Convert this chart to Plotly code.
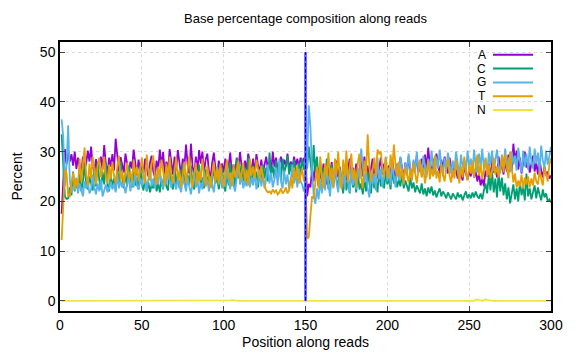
import plotly.graph_objects as go

positions = list(range(1, 301))

A = [
17.5, 23.0, 30.5, 27.5, 29.8, 28.0, 29.5, 27.2, 30.0, 26.5,
28.8, 27.0, 25.5, 29.0, 26.8, 27.5, 30.2, 28.0, 31.0, 27.0,
26.0, 28.5, 25.8, 27.6, 29.0, 26.4, 31.3, 27.5, 25.6, 28.8,
27.0, 29.5, 26.2, 32.6, 28.4, 26.0, 28.9, 27.3, 25.8, 29.6,
27.0, 25.5, 28.0, 26.6, 30.4, 27.2, 25.2, 28.4, 26.0, 27.5,
25.6, 28.6, 26.4, 25.0, 27.8, 29.2, 26.0, 24.8, 28.2, 26.4,
30.4, 27.0, 29.9, 25.6, 28.0, 26.2, 30.5, 27.4, 25.4, 29.0,
26.2, 30.3, 27.0, 25.2, 28.6, 26.8, 31.4, 27.4, 25.6, 31.6,
27.0, 25.4, 29.0, 26.2, 30.3, 27.6, 30.0, 25.8, 28.4, 29.6,
26.0, 24.8, 27.8, 29.8, 26.6, 25.0, 28.2, 26.4, 27.6, 25.8,
28.6, 26.2, 27.0, 29.8, 25.8, 27.4, 26.0, 28.8, 26.4, 29.9,
27.0, 25.4, 28.2, 26.2, 29.6, 27.4, 26.0, 28.6, 25.6, 29.5,
27.2, 26.0, 28.4, 25.8, 27.6, 29.0, 26.4, 27.8, 25.6, 30.0,
27.0, 28.8, 26.2, 27.6, 29.0, 26.8, 28.4, 27.0, 29.6, 26.4,
28.0, 26.6, 29.0, 27.2, 28.6, 26.8, 28.8, 27.6, 28.6, 29.0,
21.0, 23.5, 22.8, 26.5, 24.0, 27.8, 25.2, 23.0, 26.4, 24.2,
27.6, 25.0, 23.4, 26.8, 24.6, 27.9, 23.8, 26.0, 28.2, 24.8,
26.6, 23.6, 25.8, 27.4, 24.2, 26.2, 28.6, 24.8, 26.8, 25.0,
27.6, 24.4, 26.2, 28.4, 25.0, 29.0, 25.6, 27.2, 24.6, 26.8,
28.6, 25.2, 27.0, 24.6, 26.4, 28.8, 25.4, 27.6, 24.8, 26.0,
27.2, 25.0, 28.4, 26.0, 24.4, 27.6, 25.6, 28.8, 26.2, 24.6,
27.8, 25.8, 29.0, 26.4, 25.2, 28.0, 26.6, 29.2, 25.8, 27.4,
28.6, 26.0, 29.4, 26.6, 30.8, 27.0, 25.8, 28.6, 26.4, 29.6,
27.0, 25.4, 28.4, 26.6, 29.0, 27.2, 25.6, 28.8, 26.4, 25.0,
27.6, 25.8, 24.6, 26.8, 25.2, 24.2, 27.0, 25.6, 24.4, 26.2,
25.0, 27.4, 24.8, 26.0, 24.0, 25.6, 23.2, 24.6, 23.0, 26.2,
25.0, 27.6, 24.4, 28.4, 25.8, 27.0, 24.8, 29.0, 26.2, 27.6,
25.4, 28.2, 26.0, 29.4, 27.0, 26.2, 31.6, 28.0, 30.2, 26.4,
28.8, 25.6, 27.6, 30.0, 26.8, 28.4, 25.8, 27.2, 29.2, 26.0,
27.8, 25.4, 28.6, 26.2, 24.8, 27.0, 25.2, 26.0, 24.6, 25.2,
]

C = [
33.5, 27.0, 21.0, 20.5, 20.6, 22.8, 21.2, 26.0, 22.0, 23.6,
22.4, 25.6, 22.0, 24.0, 27.6, 23.2, 22.4, 25.0, 23.6, 22.2,
26.6, 23.0, 28.0, 24.2, 22.4, 26.0, 23.4, 27.8, 23.6, 22.0,
25.4, 22.8, 24.6, 22.2, 26.4, 23.4, 28.0, 24.6, 22.6, 25.8,
23.0, 27.2, 24.4, 22.8, 26.0, 23.2, 24.8, 22.4, 27.4, 23.6,
22.2, 24.8, 22.0, 23.8, 21.8, 23.4, 22.6, 25.2, 22.0, 23.6,
21.8, 24.6, 22.4, 25.8, 23.0, 22.2, 26.8, 23.6, 22.4, 27.0,
23.4, 25.6, 22.6, 24.4, 27.6, 23.8, 22.8, 25.4, 23.2, 27.2,
23.6, 22.4, 26.0, 24.0, 27.4, 23.0, 24.8, 22.6, 26.4, 23.4,
25.4, 22.8, 24.2, 27.0, 23.6, 25.0, 22.4, 24.4, 26.8, 23.2,
22.0, 25.6, 23.2, 27.8, 24.0, 26.4, 23.0, 28.6, 24.6, 25.8,
27.4, 24.0, 26.6, 23.6, 28.8, 25.0, 23.8, 27.2, 24.4, 26.0,
22.8, 25.6, 23.6, 27.4, 24.6, 26.8, 24.0, 29.8, 25.4, 27.0,
24.6, 28.2, 25.6, 27.6, 24.2, 28.6, 25.8, 27.0, 29.2, 25.4,
27.6, 24.8, 28.4, 26.0, 25.0, 27.8, 25.6, 28.6, 26.4, 27.0,
26.6, 31.0, 27.4, 25.0, 31.3, 26.0, 29.0, 24.6, 27.6, 23.8,
26.8, 24.0, 28.6, 22.4, 25.6, 27.4, 23.0, 26.0, 24.4, 22.6,
27.0, 23.8, 21.6, 25.6, 22.2, 24.6, 21.6, 26.6, 22.8, 24.2,
21.8, 25.8, 22.4, 23.6, 21.4, 24.4, 22.0, 26.0, 23.2, 21.6,
25.4, 22.6, 24.2, 21.8, 26.4, 23.0, 24.8, 22.6, 25.6, 23.4,
24.6, 22.4, 26.4, 23.6, 25.0, 22.8, 24.4, 23.0, 25.6, 22.6,
24.2, 23.2, 22.0, 24.8, 22.6, 23.8, 21.8, 23.2, 22.4, 21.6,
23.6, 21.4, 22.6, 21.0, 22.8, 21.6, 23.0, 21.2, 22.2, 20.8,
21.8, 22.6, 21.0, 22.0, 21.4, 20.6, 21.8, 21.2, 20.4, 21.6,
21.0, 20.4, 21.8, 20.8, 21.4, 20.2, 21.2, 22.0, 20.6, 21.4,
20.6, 21.8, 20.8, 22.0, 21.0, 20.6, 21.6, 20.4, 22.2, 23.6,
21.6, 25.4, 22.2, 26.0, 21.8, 24.6, 20.8, 25.8, 22.0, 24.8,
21.2, 23.6, 20.4, 22.8, 19.6, 21.8, 23.4, 20.4, 22.6, 20.0,
24.0, 21.2, 22.8, 20.2, 25.6, 21.0, 22.6, 20.4, 21.8, 23.2,
20.6, 22.8, 21.4, 20.2, 22.4, 20.8, 21.6, 20.0, 20.4, 19.8,
]

G = [
36.5, 33.0, 23.0, 27.5, 35.3, 24.2, 21.8, 23.0, 22.2, 24.8,
21.6, 23.6, 22.4, 21.0, 24.0, 22.6, 23.8, 21.6, 22.4, 25.4,
22.8, 21.4, 23.6, 22.0, 24.4, 21.0, 22.2, 23.4, 21.8, 22.6,
24.0, 22.4, 23.6, 21.8, 25.6, 22.6, 24.2, 22.8, 23.6, 21.6,
23.4, 25.2, 22.0, 24.0, 22.8, 26.0, 23.2, 22.4, 24.6, 23.0,
25.8, 23.6, 22.2, 24.4, 26.6, 23.0, 24.6, 22.6, 25.6, 23.4,
26.2, 24.0, 22.6, 25.4, 23.4, 27.0, 24.2, 22.8, 25.2, 23.6,
22.4, 24.6, 23.0, 21.8, 25.0, 23.2, 22.0, 24.8, 22.6, 21.4,
23.6, 25.8, 22.8, 24.2, 21.6, 23.8, 22.4, 26.0, 23.0, 24.4,
22.0, 25.0, 23.4, 21.8, 24.6, 27.0, 23.4, 25.6, 22.6, 24.4,
23.0, 28.0, 24.2, 22.4, 25.8, 23.2, 22.0, 24.6, 27.6, 23.4,
25.0, 22.6, 24.2, 23.0, 26.0, 22.8, 24.8, 23.2, 25.8, 22.4,
24.0, 26.4, 23.0, 25.4, 22.6, 24.6, 27.4, 23.6, 25.8, 22.8,
24.4, 26.8, 23.2, 28.6, 24.0, 22.6, 26.2, 23.4, 25.4, 22.4,
24.2, 27.4, 23.6, 25.6, 22.8, 26.6, 24.0, 23.4, 22.0, 23.8,
28.0, 39.3, 35.0, 26.4, 21.2, 19.5, 22.6, 20.4, 24.2, 21.6,
25.8, 22.2, 27.0, 23.4, 21.0, 25.4, 22.6, 28.0, 23.6, 21.8,
26.4, 23.0, 25.6, 22.4, 28.4, 24.0, 21.8, 26.6, 23.2, 25.0,
22.4, 26.6, 24.6, 30.6, 27.2, 23.8, 26.0, 22.6, 20.8, 25.8,
23.4, 25.6, 22.2, 28.8, 24.4, 26.6, 22.8, 25.4, 29.0, 24.0,
26.8, 23.2, 28.2, 25.0, 22.8, 27.6, 24.2, 29.0, 25.6, 23.6,
27.8, 25.2, 29.6, 26.4, 24.2, 28.4, 25.8, 30.0, 26.2, 27.6,
25.0, 29.2, 26.8, 24.8, 28.6, 26.0, 30.2, 27.0, 25.4, 29.0,
26.6, 30.4, 27.2, 25.0, 28.8, 26.2, 29.8, 27.4, 25.6, 28.2,
26.4, 30.0, 27.6, 25.2, 29.4, 26.8, 28.4, 25.8, 30.2, 27.0,
28.6, 25.6, 30.4, 27.2, 25.8, 29.6, 27.0, 30.6, 26.4, 28.8,
25.4, 29.8, 27.4, 30.2, 26.0, 28.6, 30.4, 27.0, 25.6, 29.4,
27.0, 30.6, 26.6, 28.8, 25.8, 30.0, 27.4, 29.2, 26.2, 30.8,
27.6, 25.8, 30.2, 27.0, 29.6, 26.4, 31.0, 28.0, 26.6, 30.6,
27.6, 29.8, 26.0, 31.2, 28.2, 26.8, 30.2, 27.4, 29.0, 31.0,
]

T = [
12.2, 20.0, 26.4, 25.6, 21.2, 21.0, 23.0, 25.8, 22.4, 24.6,
23.0, 28.6, 24.0, 26.8, 30.8, 25.4, 23.2, 27.6, 24.6, 29.0,
25.6, 23.4, 27.2, 28.8, 24.8, 26.4, 29.0, 25.0, 23.6, 27.4,
24.4, 28.0, 25.2, 23.6, 27.0, 29.2, 24.2, 26.2, 23.4, 25.6,
27.8, 24.6, 26.0, 23.8, 28.4, 25.2, 27.0, 24.0, 26.4, 28.8,
25.4, 23.6, 29.4, 26.0, 24.2, 27.6, 29.2, 25.0, 23.4, 27.0,
24.8, 28.4, 26.2, 23.2, 27.6, 24.4, 29.0, 25.2, 23.6, 26.8,
28.8, 24.2, 26.4, 22.8, 25.8, 28.0, 23.6, 26.2, 29.2, 24.6,
22.8, 25.6, 27.8, 23.4, 26.0, 24.2, 28.6, 25.4, 23.0, 27.2,
24.8, 22.6, 25.6, 28.0, 24.0, 26.6, 23.4, 27.6, 25.0, 22.8,
26.2, 28.4, 24.4, 25.8, 23.0, 27.4, 24.8, 26.6, 28.2, 24.2,
25.6, 27.8, 24.0, 26.4, 23.2, 28.6, 25.2, 27.0, 24.6, 28.4,
26.0, 24.4, 27.2, 25.4, 23.0, 22.2, 21.8, 22.0, 21.6, 22.4,
21.8, 22.2, 21.4, 21.8, 22.6, 21.6, 22.0, 22.8, 21.6, 22.2,
24.8, 22.6, 26.8, 24.4, 27.2, 23.6, 25.4, 26.6, 24.0, 25.0,
12.5, 12.8, 17.0, 21.0, 20.6, 24.4, 27.0, 22.6, 29.0, 24.8,
22.6, 27.6, 25.0, 29.8, 24.2, 26.8, 22.8, 28.6, 25.4, 30.0,
24.6, 22.4, 28.4, 25.0, 30.2, 23.8, 27.2, 29.6, 24.4, 26.6,
23.0, 27.8, 29.6, 24.8, 22.6, 28.2, 25.4, 33.5, 27.0, 24.0,
26.2, 28.8, 25.0, 30.4, 29.6, 30.0, 26.4, 24.8, 28.8, 26.0,
24.6, 29.4, 26.4, 31.4, 27.2, 25.0, 28.0, 24.6, 26.6, 23.4,
27.0, 25.2, 23.8, 26.6, 24.2, 27.8, 25.4, 23.6, 26.2, 28.4,
24.8, 26.8, 23.6, 25.8, 28.2, 24.4, 26.6, 25.0, 29.2, 24.6,
26.2, 23.8, 27.6, 25.4, 24.0, 26.8, 28.6, 25.2, 23.8, 26.4,
24.6, 28.4, 25.6, 23.6, 27.0, 24.8, 29.0, 25.8, 24.2, 27.4,
25.6, 28.2, 24.8, 26.8, 29.4, 25.2, 27.6, 24.4, 26.8, 28.6,
25.0, 27.4, 24.6, 26.2, 28.8, 25.4, 27.0, 24.8, 26.4, 29.2,
25.8, 29.6, 27.0, 24.6, 30.0, 26.4, 23.8, 25.6, 22.8, 24.2,
23.0, 25.4, 22.6, 24.8, 23.4, 25.0, 22.8, 24.6, 23.2, 25.8,
24.0, 23.4, 26.2, 24.6, 23.2, 26.8, 25.0, 24.0, 27.4, 28.6,
]

N = ([0.0] * 103 + [0.1, 0.2, 0.1] + [0.0] * 147
     + [0.2, 0.3, 0.2, 0.1, 0.0, 0.1, 0.3, 0.2, 0.1] + [0.0] * 38)

series_names = ["A", "C", "G", "T", "N"]
series_values = [A, C, G, T, N]
series_colors = ["#9400d3", "#009e73", "#56b4e9", "#e69f00", "#f0e442"]

boundary_x = [150, 150]
boundary_y = [0, 50]

x_ticks = [0, 50, 100, 150, 200, 250, 300]
y_ticks = [0, 10, 20, 30, 40, 50]

FONT = "Liberation Sans, Arial, sans-serif"

fig = go.Figure()
for name, vals, col in zip(series_names, series_values, series_colors):
    fig.add_trace(go.Scatter(x=positions, y=vals, mode="lines", name=name,
                             line=dict(color=col, width=1.8), showlegend=False))

fig.add_trace(go.Scatter(x=boundary_x, y=boundary_y, mode="lines",
                         line=dict(color="rgba(90,90,255,0.85)", width=3),
                         showlegend=False, hoverinfo="skip"))
fig.add_trace(go.Scatter(x=boundary_x, y=boundary_y, mode="lines",
                         line=dict(color="#0000c8", width=1, dash="4px,2px"),
                         showlegend=False, hoverinfo="skip"))

# gnuplot-style key: label on the left, line sample on the right
L, R, T_, B = 60, 551, 42, 315
pw, ph = R - L, B - T_
row_px = [55, 69, 83, 97, 111]
shapes = []
annotations = []
for name, col, py in zip(series_names, series_colors, row_px):
    yp = (B - py) / ph
    shapes.append(dict(type="line", xref="paper", yref="paper",
                       x0=(493 - L) / pw, x1=(533 - L) / pw, y0=yp, y1=yp,
                       line=dict(color=col, width=2)))
    annotations.append(dict(text=name, xref="paper", yref="paper",
                            x=(488 - L) / pw, y=yp, xanchor="right", yanchor="middle",
                            showarrow=False, font=dict(family=FONT, size=12, color="black")))

fig.update_layout(
    width=576, height=360,
    margin=dict(l=L, r=576 - R, t=T_, b=360 - B),
    paper_bgcolor="white", plot_bgcolor="white",
    title=dict(text="Base percentage composition along reads", x=(L + R) / 2 / 576,
               xanchor="center", y=1 - 18 / 360, yanchor="middle",
               font=dict(family=FONT, size=13, color="black")),
    font=dict(family=FONT, size=14, color="black"),
    shapes=shapes, annotations=annotations,
    xaxis=dict(range=[0, 300], tickvals=x_ticks, ticks="inside", ticklen=5,
               showline=True, linecolor="black", linewidth=1.5, mirror="ticks",
               showgrid=True, gridcolor="#dadada", griddash="dot", gridwidth=1,
               zeroline=False, title=dict(text="Position along reads", standoff=6,
                                          font=dict(family=FONT, size=14))),
    yaxis=dict(range=[-2.05, 52.05], tickvals=y_ticks, ticks="inside", ticklen=5,
               showline=True, linecolor="black", linewidth=1.5, mirror="ticks",
               showgrid=True, gridcolor="#dadada", griddash="dot", gridwidth=1,
               zeroline=False, title=dict(text="Percent", standoff=14,
                                          font=dict(family=FONT, size=14))),
)

fig.write_html("out.html")
